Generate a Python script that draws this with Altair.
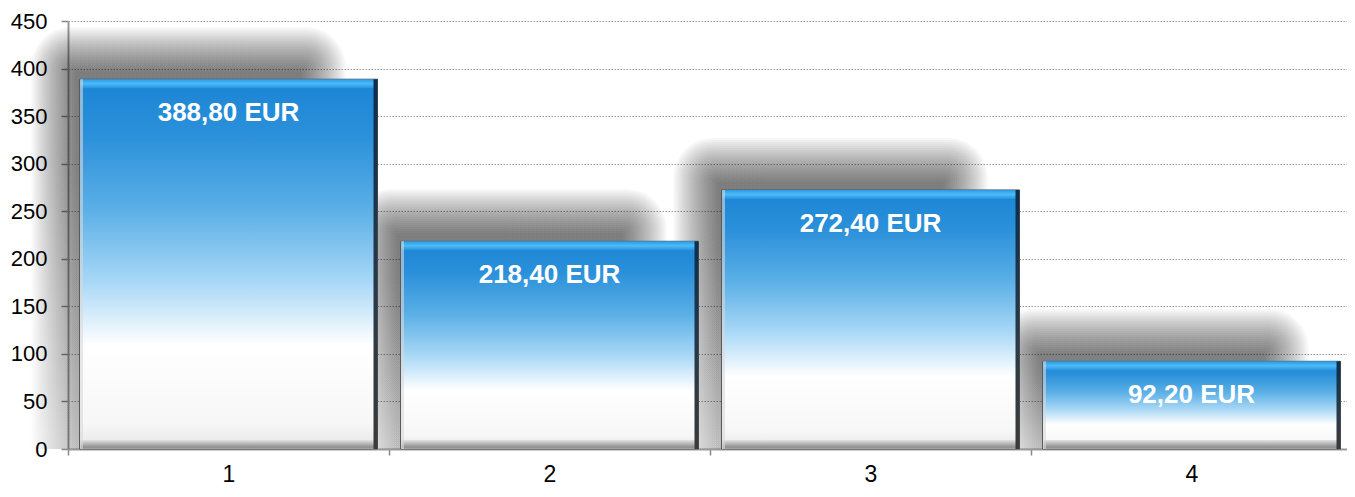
import altair as alt
import pandas as pd

categories = ["1", "2", "3", "4"]
values = [388.8, 218.4, 272.4, 92.2]
labels = ["388,80 EUR", "218,40 EUR", "272,40 EUR", "92,20 EUR"]

df = pd.DataFrame({"cat": categories, "value": values, "label": labels})

BAR_W = 298
PLOT_W = 1284

x_enc = alt.X(
    "cat:N",
    scale=alt.Scale(paddingInner=0, paddingOuter=0, range=[0, PLOT_W]),
    axis=alt.Axis(
        title=None,
        labelAngle=0,
        labelFontSize=23,
        labelFont="Liberation Sans",
        labelColor="#000",
        labelPadding=8,
        tickBand="extent",
        tickSize=6,
        tickColor="#888",
        tickWidth=1.5,
        domainColor="#9a9a9a",
        domainWidth=2,
        grid=False,
    ),
)
y_enc = alt.Y(
    "value:Q",
    scale=alt.Scale(domain=[0, 450], nice=False),
    axis=alt.Axis(
        title=None,
        values=list(range(0, 451, 50)),
        labelFontSize=22,
        labelFont="Liberation Sans",
        labelColor="#000",
        labelPadding=14,
        tickSize=7,
        tickColor="#888",
        tickWidth=1.5,
        domainColor="#9a9a9a",
        domainWidth=2,
        grid=True,
        gridColor="#9a9a9a",
        gridDash=[1.5, 1.5],
        gridWidth=1,
    ),
)

base = alt.Chart(df)

shadow_grad = alt.Gradient(
    gradient="linear",
    x1=0, x2=0, y1=0, y2=1,
    stops=[
        alt.GradientStop(offset=0, color="rgba(0,0,0,0.85)"),
        alt.GradientStop(offset=0.3, color="rgba(0,0,0,0.8)"),
        alt.GradientStop(offset=1, color="rgba(0,0,0,0.35)"),
    ],
)

layers = []
CORE_W = 270
CORE_X = -40
CORE_TOP = 30
for e in range(-22, 23, 2):
    r = max(0.0, (e + 22) * 0.9)
    layers.append(
        base.mark_bar(
            color=shadow_grad,
            opacity=0.037,
            size=CORE_W + 2 * e,
            xOffset=CORE_X,
            yOffset=-(CORE_TOP + e),
            cornerRadiusTopLeft=r,
            cornerRadiusTopRight=r,
        ).encode(x=x_enc, y=y_enc, y2=alt.datum(0))
    )

bar_grad = alt.Gradient(
    gradient="linear",
    x1=0, x2=0, y1=0, y2=1,
    stops=[
        alt.GradientStop(offset=0, color="#1a84d4"),
        alt.GradientStop(offset=0.15, color="#2b90da"),
        alt.GradientStop(offset=0.35, color="#5aafe6"),
        alt.GradientStop(offset=0.55, color="#a9d8f6"),
        alt.GradientStop(offset=0.72, color="#ffffff"),
        alt.GradientStop(offset=0.93, color="#f7f7f7"),
        alt.GradientStop(offset=1, color="#e6e6e6"),
    ],
)

bars = base.mark_bar(
    color=bar_grad, size=BAR_W, stroke="#5a5a5a", strokeWidth=1
).encode(x=x_enc, y=y_enc, y2=alt.datum(0))

top_grad = alt.Gradient(
    gradient="linear",
    x1=0, x2=0, y1=0, y2=1,
    stops=[
        alt.GradientStop(offset=0, color="#2a9ae6"),
        alt.GradientStop(offset=0.5, color="#4cbcf8"),
        alt.GradientStop(offset=1, color="#2692de"),
    ],
)
top_bevel = base.mark_bar(
    color=top_grad, size=BAR_W - 2, y2Offset=9
).encode(x=x_enc, y=y_enc, y2=alt.Y2("value:Q"))

bottom_grad = alt.Gradient(
    gradient="linear",
    x1=0, x2=0, y1=0, y2=1,
    stops=[
        alt.GradientStop(offset=0, color="#e2e2e2"),
        alt.GradientStop(offset=0.8, color="#8e8e8e"),
        alt.GradientStop(offset=1, color="#a8a8a8"),
    ],
)
bottom_bevel = base.mark_bar(
    color=bottom_grad, size=BAR_W - 2, yOffset=-9
).encode(x=x_enc, y=alt.datum(0), y2=alt.datum(0))

right_grad = alt.Gradient(
    gradient="linear",
    x1=0, x2=0, y1=0, y2=1,
    stops=[
        alt.GradientStop(offset=0, color="#0c2f4e"),
        alt.GradientStop(offset=0.6, color="#2a3a48"),
        alt.GradientStop(offset=1, color="#3a3a3a"),
    ],
)
right_edge = base.mark_bar(
    color=right_grad, size=4, xOffset=BAR_W / 2 - 2
).encode(x=x_enc, y=y_enc, y2=alt.datum(0))

left_edge = base.mark_bar(
    color="#d8d8d8", opacity=0.6, size=3, xOffset=-(BAR_W / 2 - 2)
).encode(x=x_enc, y=y_enc, y2=alt.datum(0))

text = base.mark_text(
    color="white",
    fontWeight="bold",
    fontSize=26,
    font="Liberation Sans",
    baseline="middle",
    dy=34,
).encode(x=x_enc, y=y_enc, text="label:N")

chart = alt.layer(
    *layers, bars, top_bevel, bottom_bevel, right_edge, left_edge, text
).properties(
    width=PLOT_W - 5,
    height=428,
    autosize=alt.AutoSizeParams(type="none"),
    padding={"left": 60, "top": 13, "right": 0, "bottom": 40},
).configure_view(stroke=None)

chart.save("out.html", embed_options={"renderer": "svg", "actions": False})
